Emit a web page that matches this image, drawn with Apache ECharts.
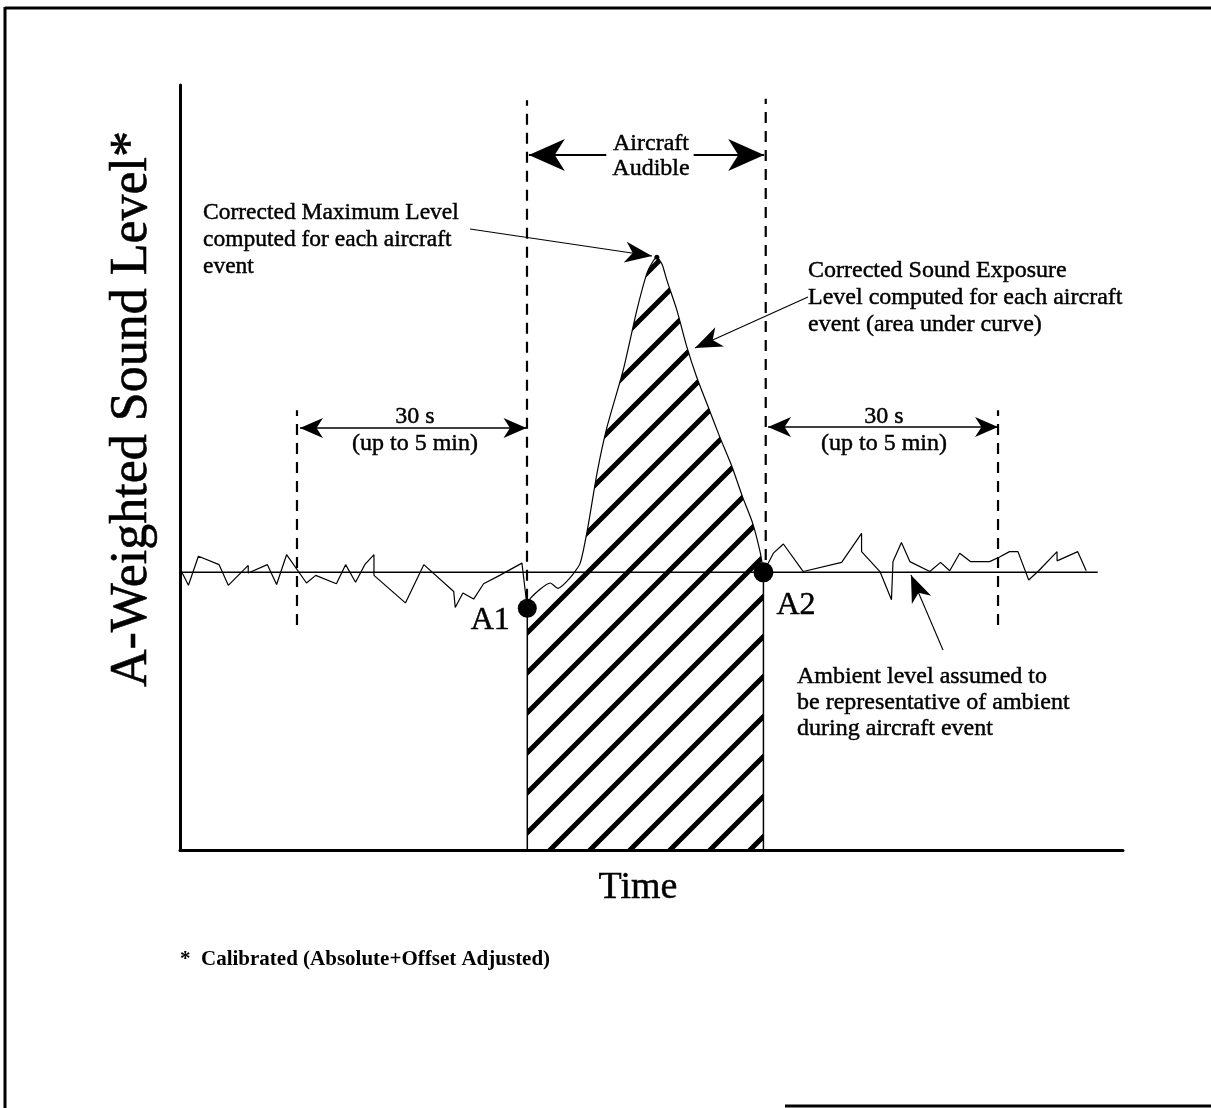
<!DOCTYPE html>
<html><head><meta charset="utf-8">
<script src="https://cdn.jsdelivr.net/npm/echarts@6/dist/echarts.min.js"></script>
<style>html,body{margin:0;padding:0;background:#fff}#c{width:1211px;height:1108px}</style>
</head><body><div id="c"></div>
<script>
// ---- data (time in s, level in arbitrary dB units) ----
const ambientLevel = 36.3;
const ambientSpan = [0.2, 119.7];

const preEventTime  = [0.2,1.1,2.4,5.1,6.3,8.9,8.9,11.4,12.6,13.9,16.5,17.7,20.4,21.6,22.9,24.1,25.3,25.3,29.4,31.8,35.7,35.9,36.9,38.3,39.6,41.7,44.6,45.3];
const preEventLevel = [36.4,34.6,38.4,37.3,34.6,37.2,36.2,37.3,34.7,38.6,34.9,35.9,34.8,37.3,35.0,37.3,38.6,35.9,32.3,37.3,33.8,31.7,33.6,32.8,34.8,35.9,37.5,31.6];

const eventTime  = [45.3,45.7,48.3,49.3,50.9,52.2,53.2,54.4,55.7,57.8,59.6,60.9,61.6,62.2,62.9,63.5,64.8,66.1,67.4,68.9,70.4,72.0,73.4,74.7,75.7,76.1];
const eventLevel = [31.6,32.9,34.9,34.2,35.6,37.5,42.2,49.3,55.3,62.7,70.6,75.4,76.8,77.5,76.5,74.5,70.6,65.8,61.8,57.9,54.0,50.1,46.1,42.7,38.8,36.3];

const postEventTime  = [76.1,77.4,78.7,81.3,86.3,88.9,88.9,91.3,92.8,93.0,94.1,95.2,97.8,99.2,100.4,101.7,103.1,105.6,106.9,108.2,109.3,110.7,112.0,114.4,114.4,117.1,118.2];
const postEventLevel = [36.3,38.8,40.0,36.4,37.6,41.4,39.0,36.4,32.7,37.7,40.2,37.7,36.4,37.6,36.5,38.8,37.7,37.7,38.3,39.0,39.0,35.3,36.5,39.0,37.8,39.0,36.5];

const pointA1 = [45.3, 31.6];
const pointA2 = [76.1, 36.3];
const peakPoint = [62.2, 77.5];

// dashed guides: [time, fromLevel, toLevel]
const dashedGuides = [[45.26,32.7,98.0],[76.4,37.9,98.2],[15.26,29.4,57.5],[106.7,29.4,57.5]];

// arrows: [x1,y1,x2,y2]
const audibleArrows = [[55.6,90.85,45.5,90.85],[67.0,90.85,76.2,90.85]];
const windowArrows  = [[15.65,55.16,45.2,55.16],[76.7,55.3,106.7,55.3]];
const pointerArrows = [[37.83,81.18,61.56,77.65],[81.91,72.29,67.17,65.62],[99.52,26.14,95.34,35.95]];

const zip = (a,b) => a.map((v,i)=>[v,b[i]]);

// hatch pattern
const hatch = document.createElement('canvas');
hatch.width = 40; hatch.height = 40;
(function(){
  const g = hatch.getContext('2d');
  g.strokeStyle = '#000'; g.lineWidth = 5; g.lineCap='butt';
  g.beginPath();
  g.moveTo(-10,50); g.lineTo(50,-10);
  g.moveTo(-10,10); g.lineTo(10,-10);
  g.moveTo(30,50); g.lineTo(50,30);
  g.stroke();
})();

const serif = '"Liberation Serif", "Times New Roman", serif';
function txt(x, y, text, size, opts){
  return Object.assign({type:'text', x, y, style:Object.assign({text, font:size+'px '+serif, lineHeight:27, fill:'#000', stroke:'#000', lineWidth:0.45,
    align:'left', verticalAlign:'top', textAlign:'left', textVerticalAlign:'top'}, (opts && opts.style)||{})}, (opts && opts.el)||{});
}

function headPoly(tip, from, L, W){
  const dx=tip[0]-from[0], dy=tip[1]-from[1];
  const len=Math.hypot(dx,dy)||1; const ux=dx/len, uy=dy/len; const nx=-uy, ny=ux;
  const bx=tip[0]-ux*L, by=tip[1]-uy*L;
  const mx=tip[0]-ux*L*0.72, my=tip[1]-uy*L*0.72;
  return {type:'polygon', shape:{points:[tip,[bx+nx*W/2,by+ny*W/2],[mx,my],[bx-nx*W/2,by-ny*W/2]]}, style:{fill:'#000'}};
}
function arrowSeries(name, arr, both, L, W, lw){
  return {
    name, type:'custom', clip:false, silent:true,
    data: arr,
    encode:{x:[0,2], y:[1,3]},
    renderItem(params, api){
      const p1 = api.coord([api.value(0), api.value(1)]);
      const p2 = api.coord([api.value(2), api.value(3)]);
      const ch = [{type:'line', shape:{x1:p1[0],y1:p1[1],x2:p2[0],y2:p2[1]}, style:{stroke:'#000', lineWidth:lw}}];
      ch.push(headPoly(p2,p1,L,W));
      if (both) ch.push(headPoly(p1,p2,L,W));
      return {type:'group', children:ch};
    }
  };
}

const chart = echarts.init(document.getElementById('c'), null, {renderer:'canvas'});
const lineBase = {type:'line', showSymbol:false, symbol:'none', silent:true, animation:false};
const labelStyle = {show:true, color:'#000', fontFamily:serif, fontSize:32, textBorderColor:'#000', textBorderWidth:0.5};
chart.setOption({
  animation:false,
  backgroundColor:'#fff',
  grid:{left:180, top:85, width:943, height:765},
  xAxis:{type:'value', min:0, max:123, axisLine:{show:true, onZero:false, lineStyle:{color:'#000', width:3}}, axisTick:{show:false}, axisLabel:{show:false}, splitLine:{show:false}},
  yAxis:{type:'value', min:0, max:100, axisLine:{show:true, onZero:false, lineStyle:{color:'#000', width:3}}, axisTick:{show:false}, axisLabel:{show:false}, splitLine:{show:false}},
  series:[
    Object.assign({}, lineBase, {name:'event', data:zip(eventTime,eventLevel), smooth:0.2, lineStyle:{color:'#000', width:1.2}, areaStyle:{origin:'start', color:{image:hatch, repeat:'repeat'}, opacity:1}, z:2}),
    Object.assign({}, lineBase, {name:'hatchEdges', data:[[pointA1[0],0],[pointA1[0],pointA1[1]],'-',[pointA2[0],pointA2[1]],[pointA2[0],0]], connectNulls:false, lineStyle:{color:'#000', width:1.5}, z:3}),
    Object.assign({}, lineBase, {name:'ambient', data:[[ambientSpan[0],ambientLevel],[ambientSpan[1],ambientLevel]], lineStyle:{color:'#000', width:1.5}, z:3}),
    Object.assign({}, lineBase, {name:'pre', data:zip(preEventTime,preEventLevel), lineStyle:{color:'#000', width:1.2}, z:3}),
    Object.assign({}, lineBase, {name:'post', data:zip(postEventTime,postEventLevel), lineStyle:{color:'#000', width:1.2}, z:3}),
    {name:'guides', type:'custom', clip:false, silent:true, data:dashedGuides, encode:{x:0,y:[1,2]},
     renderItem(params, api){
       const a=api.coord([api.value(0),api.value(1)]), b=api.coord([api.value(0),api.value(2)]);
       return {type:'line', shape:{x1:a[0],y1:a[1],x2:b[0],y2:b[1]}, style:{stroke:'#000', lineWidth:2.2, lineDash:[11,8]}};
     }, z:4},
    arrowSeries('audible', audibleArrows, false, 36, 32, 2.2),
    arrowSeries('window', windowArrows, true, 23, 20, 1.4),
    arrowSeries('pointer', pointerArrows, false, 27, 21, 1.1),
    {name:'points', type:'scatter', silent:true, symbol:'circle', itemStyle:{color:'#000', opacity:1}, z:6,
     data:[
       {value:pointA1, symbolSize:19, label:Object.assign({formatter:'A1', position:'left', distance:8, offset:[0,12]}, labelStyle)},
       {value:pointA2, symbolSize:20, label:Object.assign({formatter:'A2', position:'right', distance:3, offset:[0,33]}, labelStyle)},
       {value:peakPoint, symbolSize:5}
     ]}
  ],
  graphic:[
    {type:'line', shape:{x1:5,y1:8,x2:1211,y2:8}, style:{stroke:'#000', lineWidth:3}},
    {type:'line', shape:{x1:5,y1:7,x2:5,y2:1108}, style:{stroke:'#000', lineWidth:3}},
    {type:'line', shape:{x1:785,y1:1106,x2:1211,y2:1106}, style:{stroke:'#000', lineWidth:3}},
    txt(203, 199, 'Corrected Maximum Level\ncomputed for each aircraft\nevent', 23.5),
    txt(651, 131, 'Aircraft\nAudible', 24, {style:{lineHeight:25, align:'center', textAlign:'center'}}),
    txt(808, 257, 'Corrected Sound Exposure\nLevel computed for each aircraft\nevent (area under curve)', 24),
    txt(415, 403, '30 s\n(up to 5 min)', 24, {style:{align:'center', textAlign:'center'}}),
    txt(884, 403, '30 s\n(up to 5 min)', 24, {style:{align:'center', textAlign:'center'}}),
    txt(797, 664, 'Ambient level assumed to\nbe representative of ambient\nduring aircraft event', 24, {style:{lineHeight:26}}),
    txt(638, 888, 'Time', 38, {style:{align:'center', textAlign:'center', verticalAlign:'middle', textVerticalAlign:'middle'}}),
    txt(132, 409, 'A-Weighted Sound Level*', 52, {el:{rotation:Math.PI/2}, style:{align:'center', textAlign:'center', verticalAlign:'middle', textVerticalAlign:'middle', lineWidth:0.6}}),
    txt(180, 960, '*  Calibrated (Absolute+Offset Adjusted)', 21, {style:{font:'bold 21px '+serif, lineWidth:0, verticalAlign:'middle', textVerticalAlign:'middle'}})
  ]
});
</script></body></html>
